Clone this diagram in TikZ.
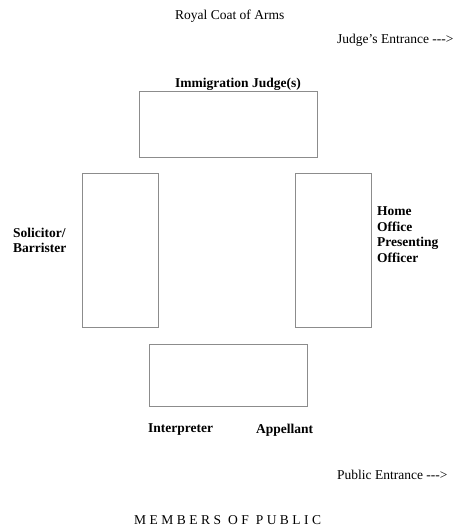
\documentclass[tikz,border=0pt]{standalone}
\usepackage{fontspec}
\setmainfont{Liberation Serif}
\begin{document}
\begin{tikzpicture}[x=1pt,y=-1pt,
  seat/.style={draw=black!45,line width=0.9pt},
  lbl/.style={inner sep=0pt,font=\fontsize{13.5}{15.5}\selectfont},
  blbl/.style={inner sep=0pt,font=\fontsize{13.5}{15.5}\selectfont\bfseries,align=left}]
\useasboundingbox (0,0) rectangle (457,528);
\draw[seat] (139,91) rectangle (317,157);
\draw[seat] (82,173) rectangle (158,327);
\draw[seat] (295,173) rectangle (371,327);
\draw[seat] (149,344) rectangle (307,406);
\node[lbl,anchor=west] (coat) at (175,16) {Royal Coat of Arms};
\node[lbl,anchor=west] (jent) at (337,40) {Judge’s Entrance -{}-{}->};
\node[blbl,anchor=west] (judge) at (175,84) {Immigration Judge(s)};
\node[blbl,anchor=west] (sol) at (13,240.5) {Solicitor/\\Barrister};
\node[blbl,anchor=west] (hopo) at (377,234.5) {Home\\Office\\Presenting\\Officer};
\node[blbl,anchor=west] (interp) at (148,430) {Interpreter};
\node[blbl,anchor=west] (app) at (256,430) {Appellant};
\node[lbl,anchor=west] (pent) at (337,475) {Public Entrance -{}-{}->};
\node[lbl,anchor=west] (members) at (134,520) {\makebox[187pt][s]{M\hfil E\hfil M\hfil B\hfil E\hfil R\hfil S\hfil\hfil O\hfil F\hfil\hfil P\hfil U\hfil B\hfil L\hfil I\hfil C}};
\end{tikzpicture}
\end{document}
